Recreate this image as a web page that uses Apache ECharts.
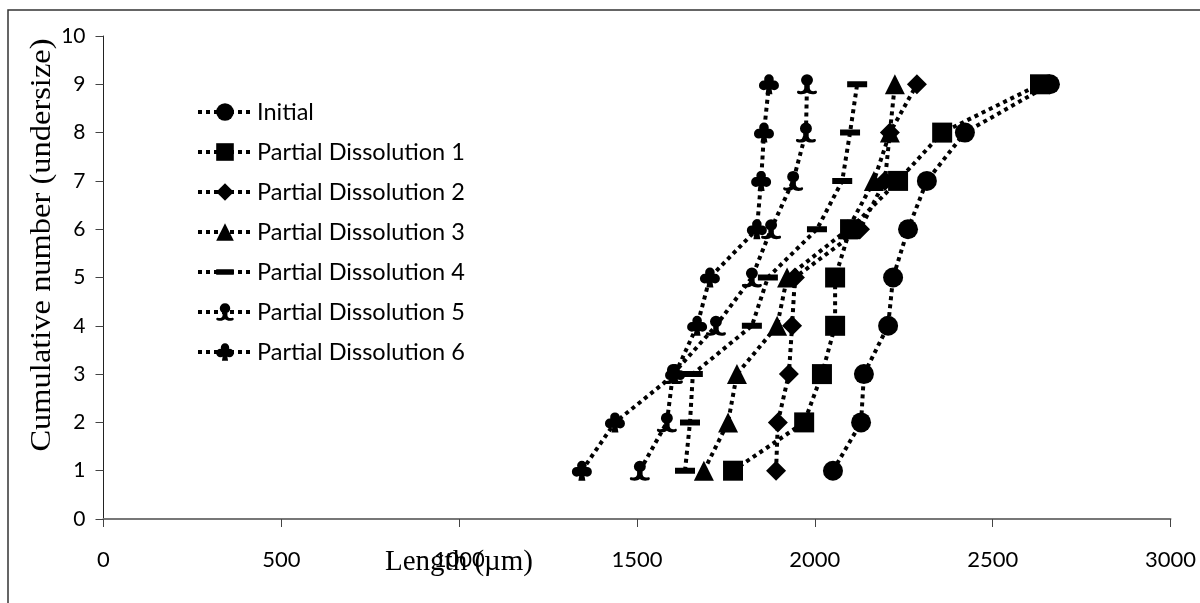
<!DOCTYPE html>
<html>
<head>
<meta charset="utf-8">
<script src="https://cdn.jsdelivr.net/npm/echarts@6/dist/echarts.min.js"></script>
<style>html,body{margin:0;padding:0;background:#fff}#c{width:1200px;height:603px}</style>
</head>
<body>
<div id="c"></div>
<script>
// ---- data ----
const seriesNames = ['Initial','Partial Dissolution 1','Partial Dissolution 2','Partial Dissolution 3','Partial Dissolution 4','Partial Dissolution 5','Partial Dissolution 6'];
const cumulative = [1,2,3,4,5,6,7,8,9];
const initial = [2051,2130,2138,2206,2220,2262,2315,2422,2661];
const pd1 = [1770,1970,2020,2057,2057,2099,2234,2358,2633];
const pd2 = [1891,1896,1927,1936,1944,2127,2197,2211,2287];
const pd3 = [1688,1756,1781,1894,1922,2093,2166,2211,2225];
const pd4 = [1635,1649,1657,1823,1868,2006,2077,2099,2119];
const pd5 = [1508,1584,1601,1722,1823,1877,1939,1975,1978];
const pd6 = [1345,1438,1607,1669,1705,1837,1849,1857,1871];
const xTicks = [0,500,1000,1500,2000,2500,3000];
const yTicks = [0,1,2,3,4,5,6,7,8,9,10];

// ---- symbols ----
const dashSym = 'path://M0 0L0.01 0L0 0.01Z M0 7H20V13H0Z M20 20L19.99 20L20 19.99Z';
const clubSym = 'path://M6.5 6.5A5.5 5.5 0 1 1 17.5 6.5A5.5 5.5 0 1 1 6.5 6.5Z M0.5 13.5A5.5 5.5 0 1 1 11.5 13.5A5.5 5.5 0 1 1 0.5 13.5Z M12.5 13.5A5.5 5.5 0 1 1 23.5 13.5A5.5 5.5 0 1 1 12.5 13.5Z M10.5 9L13.5 9L16 23.5L8 23.5Z';
const pawnSym = 'path://M12 0.5A6.5 6.5 0 1 1 12 13.5A6.5 6.5 0 1 1 12 0.5Z M9 11L15 11L15 16C15.5 19 18 20 21 19C23.5 18.5 23.5 22 21 22.5C17 23.5 14 22.5 12 21C10 22.5 7 23.5 3 22.5C0.5 22 0.5 18.5 3 19C6 20 8.5 19 9 16Z';

const xs = [initial,pd1,pd2,pd3,pd4,pd5,pd6];
const symbols = ['circle','rect','diamond','triangle',dashSym,pawnSym,clubSym];
const sizes = [20,20,20,20,20,20,20];

const series = xs.map((arr,i)=>({
  name: seriesNames[i],
  type: 'line',
  data: arr.map((x,j)=>[x,cumulative[j]]),
  symbol: symbols[i],
  symbolSize: sizes[i],
  showAllSymbol: true,
  itemStyle: {color:'#000', borderWidth:0},
  lineStyle: {color:'#000', width:4, type:[4,4], cap:'butt'},
  emphasis: {disabled:true},
  animation: false
}));

const chart = echarts.init(document.getElementById('c'), null, {renderer:'canvas'});
chart.setOption({
  animation: false,
  backgroundColor: '#fff',
  grid: {left:103.5, right:29.5, top:36, bottom:84},
  xAxis: {
    type:'value', min:xTicks[0], max:xTicks[xTicks.length-1], interval:500,
    axisLine:{show:true, onZero:false, lineStyle:{color:'#777', width:2}},
    axisTick:{show:true, inside:false, length:8, lineStyle:{color:'#444', width:1}},
    axisLabel:{margin:30, fontFamily:'Lato', fontSize:22, color:'#000', formatter:(v)=>String(v)},
    splitLine:{show:false}
  },
  yAxis: {
    type:'value', min:yTicks[0], max:yTicks[yTicks.length-1], interval:1,
    axisLine:{show:true, onZero:false, lineStyle:{color:'#222', width:1}},
    axisTick:{show:true, inside:false, length:8, lineStyle:{color:'#444', width:1}},
    axisLabel:{margin:18, fontFamily:'Lato', fontSize:21, color:'#000', formatter:(v)=>String(v)},
    splitLine:{show:false}
  },
  legend: {
    orient:'vertical', left:191, top:95,
    itemWidth:54, itemHeight:22, itemGap:16,
    lineStyle:{color:'#000', width:4, type:[4,4], cap:'butt'},
    textStyle:{fontFamily:'Lato', fontSize:23.5, color:'#000', lineHeight:22, padding:[0,0,0,0]},
    data: seriesNames
  },
  graphic: [
    {type:'rect', shape:{x:8, y:10, width:1250, height:700}, style:{fill:'none', stroke:'#333', lineWidth:1.5}, silent:true},
    {type:'text', x:42, y:245, rotation:Math.PI/2, scaleX:1.12,
      style:{text:'Cumulative number (undersize)', font:'29px "Liberation Serif"', fill:'#000', textAlign:'center', textVerticalAlign:'middle'}},
    {type:'text', x:459, y:562,
      style:{text:'Length (µm)', font:'29px "Liberation Serif"', fill:'#000', textAlign:'center', textVerticalAlign:'middle'}}
  ],
  series: series
});
</script>
</body>
</html>
